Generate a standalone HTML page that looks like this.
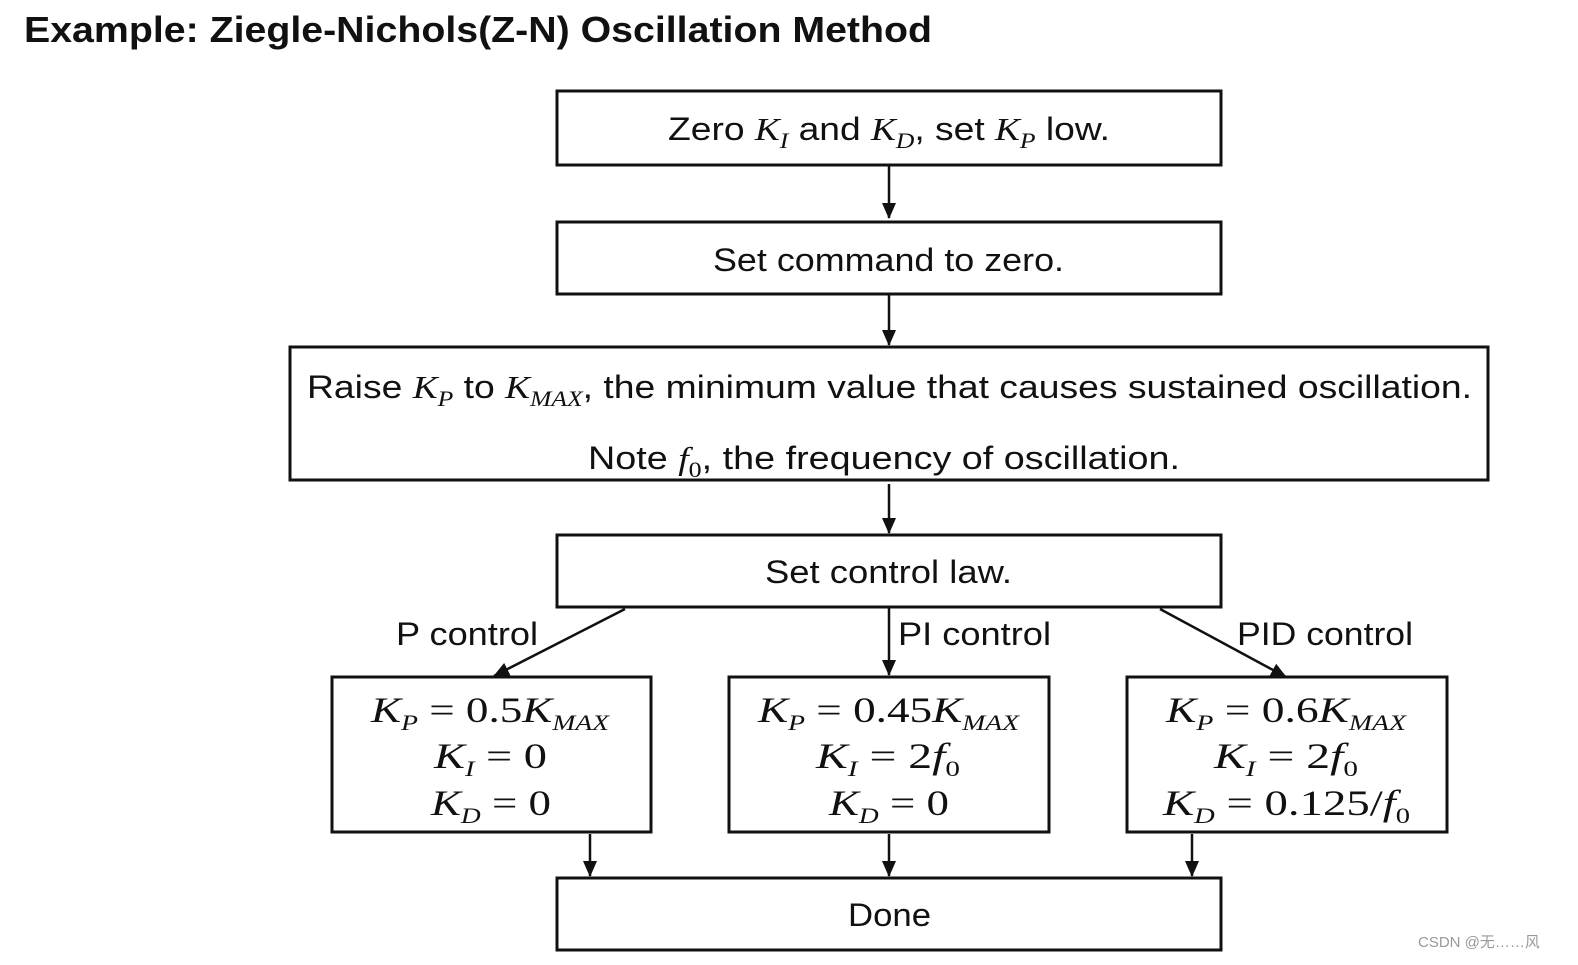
<!DOCTYPE html>
<html><head><meta charset="utf-8"><style>
html,body{margin:0;padding:0;background:#fff;}
svg{display:block;}
.s{font-family:"Liberation Sans",sans-serif;font-size:32px;fill:#111;}
.m{font-family:"Liberation Serif",serif;font-style:italic;}
.n{font-family:"Liberation Serif",serif;font-style:normal;}
.sub{font-size:22px;}
</style></head><body>
<svg width="1578" height="965" viewBox="0 0 1578 965" xmlns="http://www.w3.org/2000/svg">
<defs><marker id="a" markerWidth="10" markerHeight="10" refX="9" refY="5" orient="auto" markerUnits="userSpaceOnUse"><path d="M0,0 L10,5 L0,10 z" fill="#111"/></marker>
<marker id="b" markerWidth="16" markerHeight="14" refX="15" refY="7" orient="auto" markerUnits="userSpaceOnUse"><path d="M0,0 L16,7 L0,14 z" fill="#111"/></marker></defs>
<text x="24" y="42" font-family="Liberation Sans,sans-serif" font-weight="bold" font-size="36" fill="#111" textLength="908" lengthAdjust="spacingAndGlyphs">Example: Ziegle-Nichols(Z-N) Oscillation Method</text>
<g fill="none" stroke="#111" stroke-width="3">
<rect x="557" y="91" width="664" height="74"/>
<rect x="557" y="222" width="664" height="72"/>
<rect x="290" y="347" width="1198" height="133"/>
<rect x="557" y="535" width="664" height="72"/>
<rect x="332" y="677" width="319" height="155"/>
<rect x="729" y="677" width="320" height="155"/>
<rect x="1127" y="677" width="320" height="155"/>
<rect x="557" y="878" width="664" height="72"/>
</g>
<g stroke="#111" stroke-width="2.5" marker-end="url(#b)">
<line x1="889" y1="166" x2="889" y2="218"/>
<line x1="889" y1="295" x2="889" y2="345"/>
<line x1="889" y1="484" x2="889" y2="533"/>
<line x1="889" y1="608" x2="889" y2="675"/>
<line x1="625" y1="609" x2="494" y2="676"/>
<line x1="1160" y1="609" x2="1286" y2="677"/>
<line x1="590" y1="834" x2="590" y2="876"/>
<line x1="889" y1="834" x2="889" y2="876"/>
<line x1="1192" y1="834" x2="1192" y2="876"/>
</g>
<text class="s" x="668" y="140" textLength="442" lengthAdjust="spacingAndGlyphs">Zero <tspan class="m">K</tspan><tspan class="m sub" dy="8">I</tspan><tspan dy="-8"> and </tspan><tspan class="m">K</tspan><tspan class="m sub" dy="8">D</tspan><tspan dy="-8">, set </tspan><tspan class="m">K</tspan><tspan class="m sub" dy="8">P</tspan><tspan dy="-8"> low.</tspan></text>
<text class="s" x="713" y="271" textLength="351" lengthAdjust="spacingAndGlyphs">Set command to zero.</text>
<text class="s" x="307" y="398" textLength="1165" lengthAdjust="spacingAndGlyphs">Raise <tspan class="m">K</tspan><tspan class="m sub" dy="8">P</tspan><tspan dy="-8"> to </tspan><tspan class="m">K</tspan><tspan class="m sub" dy="8">MAX</tspan><tspan dy="-8">, the minimum value that causes sustained oscillation.</tspan></text>
<text class="s" x="588" y="469" textLength="592" lengthAdjust="spacingAndGlyphs">Note <tspan class="m">f</tspan><tspan class="n sub" dy="8">0</tspan><tspan dy="-8">, the frequency of oscillation.</tspan></text>
<text class="s" x="765" y="583" textLength="247" lengthAdjust="spacingAndGlyphs">Set control law.</text>
<text class="s" x="396" y="645" textLength="142" lengthAdjust="spacingAndGlyphs">P control</text>
<text class="s" x="898" y="645" textLength="153" lengthAdjust="spacingAndGlyphs">PI control</text>
<text class="s" x="1237" y="645" textLength="176" lengthAdjust="spacingAndGlyphs">PID control</text>
<g class="s" style="font-size:36px">
<text x="371" y="722" textLength="238" lengthAdjust="spacingAndGlyphs"><tspan class="m">K</tspan><tspan class="m sub" dy="8">P</tspan><tspan class="n" dy="-8"> = 0.5</tspan><tspan class="m">K</tspan><tspan class="m sub" dy="8">MAX</tspan></text>
<text x="434" y="768" textLength="113" lengthAdjust="spacingAndGlyphs"><tspan class="m">K</tspan><tspan class="m sub" dy="8">I</tspan><tspan class="n" dy="-8"> = 0</tspan></text>
<text x="431" y="815" textLength="120" lengthAdjust="spacingAndGlyphs"><tspan class="m">K</tspan><tspan class="m sub" dy="8">D</tspan><tspan class="n" dy="-8"> = 0</tspan></text>
<text x="758" y="722" textLength="261" lengthAdjust="spacingAndGlyphs"><tspan class="m">K</tspan><tspan class="m sub" dy="8">P</tspan><tspan class="n" dy="-8"> = 0.45</tspan><tspan class="m">K</tspan><tspan class="m sub" dy="8">MAX</tspan></text>
<text x="816" y="768" textLength="144" lengthAdjust="spacingAndGlyphs"><tspan class="m">K</tspan><tspan class="m sub" dy="8">I</tspan><tspan class="n" dy="-8"> = 2</tspan><tspan class="m">f</tspan><tspan class="n sub" dy="8">0</tspan></text>
<text x="829" y="815" textLength="120" lengthAdjust="spacingAndGlyphs"><tspan class="m">K</tspan><tspan class="m sub" dy="8">D</tspan><tspan class="n" dy="-8"> = 0</tspan></text>
<text x="1166" y="722" textLength="240" lengthAdjust="spacingAndGlyphs"><tspan class="m">K</tspan><tspan class="m sub" dy="8">P</tspan><tspan class="n" dy="-8"> = 0.6</tspan><tspan class="m">K</tspan><tspan class="m sub" dy="8">MAX</tspan></text>
<text x="1214" y="768" textLength="144" lengthAdjust="spacingAndGlyphs"><tspan class="m">K</tspan><tspan class="m sub" dy="8">I</tspan><tspan class="n" dy="-8"> = 2</tspan><tspan class="m">f</tspan><tspan class="n sub" dy="8">0</tspan></text>
<text x="1163" y="815" textLength="247" lengthAdjust="spacingAndGlyphs"><tspan class="m">K</tspan><tspan class="m sub" dy="8">D</tspan><tspan class="n" dy="-8"> = 0.125/</tspan><tspan class="m">f</tspan><tspan class="n sub" dy="8">0</tspan></text>
</g>
<text class="s" x="848" y="926" textLength="83" lengthAdjust="spacingAndGlyphs">Done</text>
<text x="1418" y="947" font-family="Liberation Sans,Noto Sans CJK SC,sans-serif" font-size="15" fill="#999">CSDN @无……风</text>
</svg>
</body></html>
